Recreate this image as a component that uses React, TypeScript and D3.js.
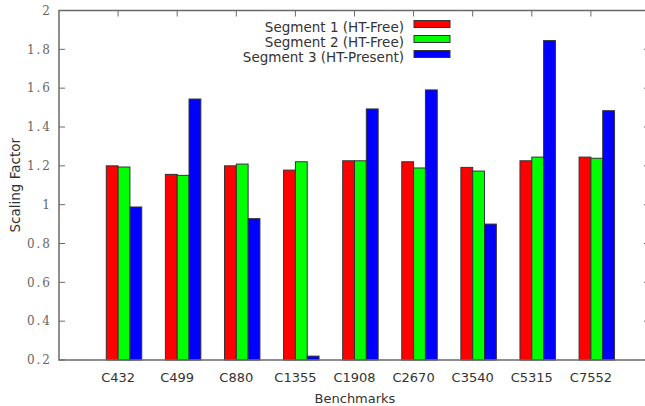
import React, { useEffect, useRef } from 'react';
import * as d3 from 'd3';

const benchmarks = ['C432', 'C499', 'C880', 'C1355', 'C1908', 'C2670', 'C3540', 'C5315', 'C7552'];
const segment1 = [1.2, 1.156, 1.2, 1.178, 1.226, 1.221, 1.192, 1.226, 1.245];
const segment2 = [1.194, 1.151, 1.209, 1.221, 1.226, 1.189, 1.173, 1.245, 1.239];
const segment3 = [0.988, 1.544, 0.928, 0.22, 1.493, 1.591, 0.9, 1.845, 1.484];
const seriesNames = ['Segment 1 (HT-Free)', 'Segment 2 (HT-Free)', 'Segment 3 (HT-Present)'];
const yTicks = [0.2, 0.4, 0.6, 0.8, 1, 1.2, 1.4, 1.6, 1.8, 2];

const App = () => {
  const svgRef = useRef<SVGSVGElement>(null);
  const width = 645;
  const height = 406;

  useEffect(() => {
    const svg = d3.select(svgRef.current);
    svg.selectAll('*').remove();

    const left = 59, right = 650, top = 10.5, bottom = 360;
    const x = d3.scaleLinear().domain([-1, 9]).range([left, right]);
    const y = d3.scaleLinear().domain([0.2, 2]).range([bottom, top]);
    const colors = ['#ff0000', '#00ff00', '#0000ff'];
    const series = [segment1, segment2, segment3];
    const offsets = [-0.1, 0.1, 0.3];
    const bw = 0.2;

    // bars
    series.forEach((vals, s) => {
      svg.append('g')
        .selectAll('rect')
        .data(vals)
        .join('rect')
        .attr('x', (d, i) => x(i + offsets[s] - bw / 2))
        .attr('y', d => y(d))
        .attr('width', x(bw) - x(0))
        .attr('height', d => bottom - y(d))
        .attr('fill', colors[s])
        .attr('stroke', '#333')
        .attr('stroke-width', 1);
    });

    // frame
    svg.append('rect')
      .attr('x', left).attr('y', top)
      .attr('width', right - left).attr('height', bottom - top)
      .attr('fill', 'none').attr('stroke', '#6a6a6a').attr('stroke-width', 1.5);

    // y axis ticks and labels
    const yAxis = svg.append('g');
    yTicks.forEach(t => {
      yAxis.append('line').attr('x1', left).attr('x2', left + 6).attr('y1', y(t)).attr('y2', y(t))
        .attr('stroke', '#6a6a6a');
      yAxis.append('line').attr('x1', right - 6).attr('x2', right).attr('y1', y(t)).attr('y2', y(t))
        .attr('stroke', '#6a6a6a');
      yAxis.append('text')
        .attr('x', 52).attr('y', y(t)).attr('dy', '0.35em')
        .attr('text-anchor', 'end')
        .attr('font-family', 'DejaVu Serif')
        .attr('font-size', 12)
        .attr('letter-spacing', 2)
        .attr('fill', '#666')
        .text(d3.format('~g')(t));
    });

    // x axis ticks and labels
    const xAxis = svg.append('g');
    benchmarks.forEach((b, i) => {
      xAxis.append('line').attr('x1', x(i)).attr('x2', x(i)).attr('y1', top).attr('y2', top + 6)
        .attr('stroke', '#6a6a6a');
      xAxis.append('text')
        .attr('x', x(i)).attr('y', 377).attr('dy', '0.35em')
        .attr('text-anchor', 'middle')
        .attr('font-family', 'DejaVu Sans')
        .attr('font-size', 13)
        .attr('fill', '#333')
        .text(b);
    });

    svg.append('text')
      .attr('x', 355).attr('y', 398).attr('dy', '0.35em')
      .attr('text-anchor', 'middle')
      .attr('font-family', 'DejaVu Sans').attr('font-size', 13).attr('fill', '#333')
      .text('Benchmarks');

    svg.append('text')
      .attr('transform', `translate(15,${(top + bottom) / 2}) rotate(-90)`)
      .attr('dy', '0.35em')
      .attr('text-anchor', 'middle')
      .attr('font-family', 'DejaVu Sans').attr('font-size', 13.5).attr('fill', '#333')
      .text('Scaling Factor');

    // legend
    const legend = svg.append('g');
    seriesNames.forEach((n, s) => {
      const cy = 27.5 + s * 15;
      legend.append('text')
        .attr('x', 404).attr('y', cy).attr('dy', '0.35em')
        .attr('text-anchor', 'end')
        .attr('font-family', 'DejaVu Sans').attr('font-size', 13.5).attr('fill', '#333')
        .text(n);
      legend.append('rect')
        .attr('x', 414).attr('y', cy - 7).attr('width', 36).attr('height', 7)
        .attr('fill', colors[s]).attr('stroke', '#333').attr('stroke-width', 1);
    });
  }, []);

  return (
    <svg ref={svgRef} width={width} height={height}
      style={{ position: 'absolute', left: 0, top: 0, background: '#fff', overflow: 'hidden' }} />
  );
};

export default App;
